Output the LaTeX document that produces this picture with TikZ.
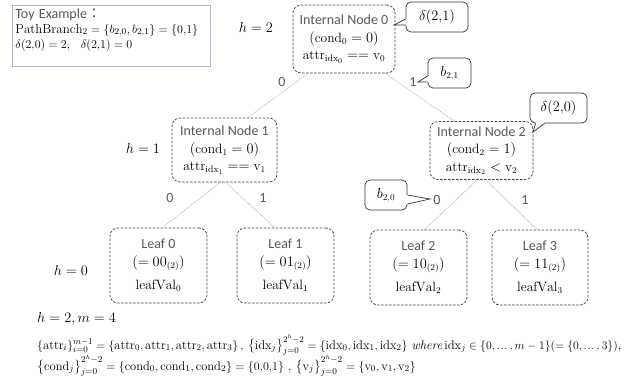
\documentclass[tikz,border=0pt]{standalone}
\usepackage{fontspec}
\usepackage{amsmath}
\usepackage{graphicx}
\newfontfamily\lab{Carlito}
\newfontfamily\cjk{Noto Sans CJK JP}
\usetikzlibrary{calc}
\definecolor{txtgray}{HTML}{595959}
\definecolor{boxline}{HTML}{404040}
\definecolor{edgegray}{HTML}{A6A6A6}
\definecolor{toyline}{HTML}{A9BCD5}
\newcommand\sanslab[1]{{\lab\fontsize{14}{17.5}\selectfont\color{txtgray}#1}}
\newcommand\eld{\mathinner{.\kern0.6pt.\kern0.6pt.}}
\begin{document}
\begin{tikzpicture}[x=1pt,y=-1pt,font=\fontsize{13.5}{17.5}\selectfont,
  nodebox/.style={draw=boxline, line width=0.7pt, dash pattern=on 2.5pt off 1.5pt,
    rounded corners=8pt, align=center, inner sep=0pt, fill=white},
  edge/.style={draw=edgegray, line width=0.5pt, dash pattern=on 1pt off 0.8pt},
  callbox/.style={draw=black!80, line width=0.7pt, rounded corners=5pt, fill=white, inner sep=0pt},
  callline/.style={draw=black!80, line width=0.7pt, line join=miter},
  elab/.style={font=\lab\fontsize{14}{17}\selectfont, text=txtgray, inner sep=0pt},
  hlab/.style={font=\fontsize{14}{17}\selectfont, inner sep=0pt},
  eqline/.style={anchor=base west, inner sep=0pt}]
\useasboundingbox (0,0) rectangle (627,383);

% Toy example box
\node[draw=toyline, line width=0.8pt, anchor=north west, minimum width=198pt,
  minimum height=55pt, align=left, text width=192pt, inner sep=3pt,
  font=\fontsize{13}{15}\selectfont] (toy) at (12,5)
  {{\lab\fontsize{14}{15}\selectfont\color{txtgray}Toy Example{\cjk ：}}\\
   $\mathrm{PathBranch}_2=\left\{b_{2,0},b_{2,1}\right\}=\{0{,}1\}$\\
   $\delta(2{,}0)=2,\ \ \delta(2{,}1)=0$\\[-4pt]\strut};

% level labels
\node[hlab] (h2) at (256,27) {$h=2$};
\node[hlab] (h1) at (143,148) {$h=1$};
\node[hlab] (h0) at (71,270) {$h=0$};

% internal nodes
\node[nodebox, minimum width=102pt, minimum height=68pt] (n0) at (344,39)
  {\sanslab{Internal Node 0}\\ $(\mathrm{cond}_0=0)$\\ $\mathrm{attr}_{\mathrm{idx}_0}==\mathrm{v}_0$};
\node[nodebox, minimum width=105pt, minimum height=64pt] (n1) at (224.5,150)
  {\sanslab{Internal Node 1}\\ $(\mathrm{cond}_1=0)$\\ $\mathrm{attr}_{\mathrm{idx}_1}==\mathrm{v}_1$};
\node[nodebox, minimum width=103pt, minimum height=58pt] (n2) at (481.5,150.5)
  {\sanslab{Internal Node 2}\\ $(\mathrm{cond}_2=1)$\\ $\mathrm{attr}_{\mathrm{idx}_2}<\mathrm{v}_2$};

% leaves
\node[nodebox, minimum width=97pt, minimum height=75pt] (lf0) at (158.5,265.5)
  {\sanslab{Leaf 0}\\ $(=00_{(2)})$\\[6pt] $\mathrm{leafVal}_0$};
\node[nodebox, minimum width=97pt, minimum height=75pt] (lf1) at (285.5,265.5)
  {\sanslab{Leaf 1}\\ $(=01_{(2)})$\\[6pt] $\mathrm{leafVal}_1$};
\node[nodebox, minimum width=97pt, minimum height=75pt] (lf2) at (418.5,267.5)
  {\sanslab{Leaf 2}\\ $(=10_{(2)})$\\[6pt] $\mathrm{leafVal}_2$};
\node[nodebox, minimum width=96pt, minimum height=75pt] (lf3) at (540,267.5)
  {\sanslab{Leaf 3}\\ $(=11_{(2)})$\\[6pt] $\mathrm{leafVal}_3$};

% edges
\draw[edge] ($(n0.south west)!0.15!(n0.south east)$) -- ($(n1.north west)!0.72!(n1.north east)$);
\draw[edge] ($(n0.south west)!0.90!(n0.south east)$) -- ($(n2.north west)!0.24!(n2.north east)$);
\draw[edge] ($(n1.south west)!0.46!(n1.south east)$) -- ($(lf0.north west)!0.54!(lf0.north east)$);
\draw[edge] ($(n1.south west)!0.51!(n1.south east)$) -- ($(lf1.north west)!0.39!(lf1.north east)$);
\draw[edge] ($(n2.south west)!0.46!(n2.south east)$) -- ($(lf2.north west)!0.56!(lf2.north east)$);
\draw[edge] ($(n2.south west)!0.54!(n2.south east)$) -- ($(lf3.north west)!0.47!(lf3.north east)$);

% edge labels
\node[elab] (e00) at (282,82) {0};
\node[elab] (e01) at (413,82) {1};
\node[elab] (e10) at (170,198) {0};
\node[elab] (e11) at (263,198) {1};
\node[elab] (e20) at (437,200) {0};
\node[elab] (e21) at (525,200) {1};

% callouts
\node[callbox, minimum width=62pt, minimum height=30pt] (c21) at (437,17) {$\delta(2{,}1)$};
\coordinate (c21a) at ($(c21.west)+(0,2)$);
\coordinate (c21b) at ($(c21.west)+(0,8)$);
\coordinate (c21t) at (394,25);
\fill[white] (c21a) -- (c21t) -- (c21b) -- ($(c21b)+(1.5,0)$) -- ($(c21a)+(1.5,0)$) -- cycle;
\draw[callline] (c21a) -- (c21t) -- (c21b);

\node[callbox, minimum width=43pt, minimum height=30pt] (cb21) at (449.5,73) {$b_{2,1}$};
\coordinate (cb21a) at ($(cb21.west)+(0,3)$);
\coordinate (cb21b) at ($(cb21.west)+(0,9)$);
\coordinate (cb21t) at (418,82);
\fill[white] (cb21a) -- (cb21t) -- (cb21b) -- ($(cb21b)+(1.5,0)$) -- ($(cb21a)+(1.5,0)$) -- cycle;
\draw[callline] (cb21a) -- (cb21t) -- (cb21b);

\node[callbox, minimum width=57pt, minimum height=30pt] (c20) at (558.5,108) {$\delta(2{,}0)$};
\coordinate (c20a) at ($(c20.south west)+(6,0)$);
\coordinate (c20b) at ($(c20.south west)+(15,0)$);
\coordinate (c20t) at (533,132);
\fill[white] (c20a) -- (c20t) -- (c20b) -- ($(c20b)+(0,-1.5)$) -- ($(c20a)+(0,-1.5)$) -- cycle;
\draw[callline] (c20a) -- (c20t) -- (c20b);

\node[callbox, minimum width=42pt, minimum height=30pt] (cb20) at (386,195) {$b_{2,0}$};
\coordinate (cb20a) at ($(cb20.east)+(0,0)$);
\coordinate (cb20b) at ($(cb20.east)+(0,9)$);
\coordinate (cb20t) at (430,199);
\fill[white] (cb20a) -- (cb20t) -- (cb20b) -- ($(cb20b)+(-1.5,0)$) -- ($(cb20a)+(-1.5,0)$) -- cycle;
\draw[callline] (cb20a) -- (cb20t) -- (cb20b);

% bottom definitions
\node[eqline, font=\fontsize{13.5}{16}\selectfont] (eq1) at (37,322) {$h=2,m=4$};
\node[eqline] (eq2) at (37,349) {\resizebox{584pt}{!}{\fontsize{13}{16}\selectfont$\{\mathrm{attr}_i\}_{i=0}^{m-1}=\{\mathrm{attr}_0,\mathrm{attr}_1,\mathrm{attr}_2,\mathrm{attr}_3\}$\,,\ $\bigl\{\mathrm{idx}_j\bigr\}_{j=0}^{2^h-2}=\{\mathrm{idx}_0,\mathrm{idx}_1,\mathrm{idx}_2\}$ \textit{where}\,$\mathrm{idx}_j\in\{0,\eld,m-1\}(=\{0,\eld,3\})$,}};
\node[eqline, font=\fontsize{12.5}{15}\selectfont] (eq3) at (37,370) {$\bigl\{\mathrm{cond}_j\bigr\}_{j=0}^{2^h-2}=\{\mathrm{cond}_0,\mathrm{cond}_1,\mathrm{cond}_2\}=\{0{,}0{,}1\}$\ ,\ $\bigl\{\mathrm{v}_j\bigr\}_{j=0}^{2^h-2}=\{\mathrm{v}_0,\mathrm{v}_1,\mathrm{v}_2\}$};
\end{tikzpicture}
\end{document}
